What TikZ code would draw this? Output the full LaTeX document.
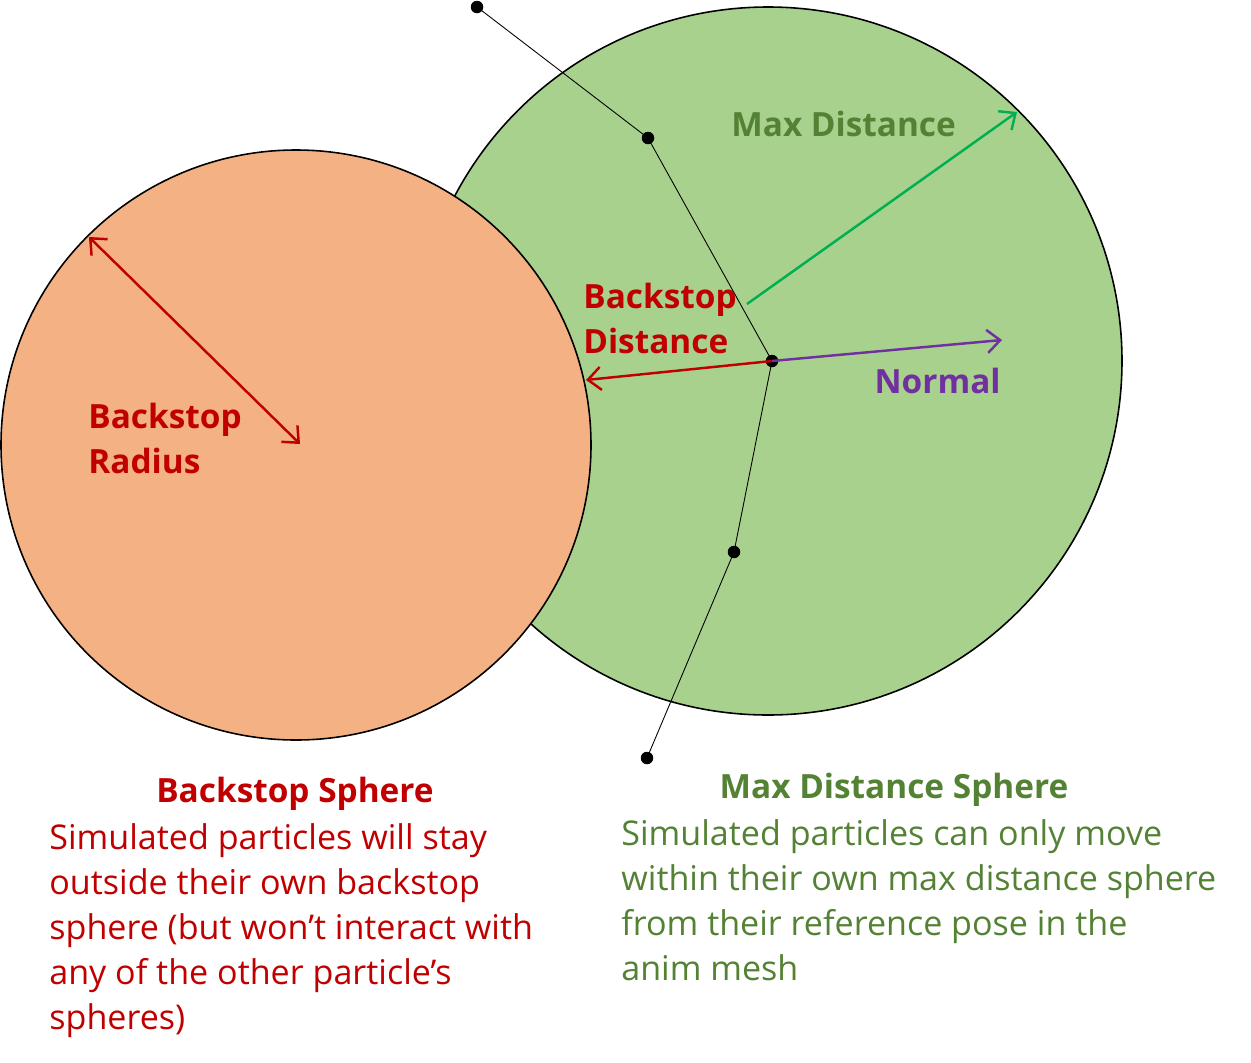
\documentclass[tikz,border=0pt]{standalone}
\usepackage{fontspec}
\setmainfont{Open Sans}
\usetikzlibrary{arrows.meta, positioning}
\definecolor{mdgreen}{HTML}{A9D18E}
\definecolor{bsorange}{HTML}{F4B183}
\definecolor{dkred}{HTML}{C00000}
\definecolor{nrmpurple}{HTML}{7030A0}
\definecolor{arrgreen}{HTML}{00B050}
\definecolor{txtgreen}{HTML}{548235}

\begin{document}
\begin{tikzpicture}[
  x=0.02cm, y=-0.02cm,
  >={Straight Barb[length=2.6mm, width=4.6mm]},
  vec/.style={line width=1.4pt, ->},
  lbl/.style={font=\fontsize{19}{25.6}\selectfont\bfseries, align=left, inner sep=0pt},
  desc/.style={font=\fontsize{19.4}{25.6}\selectfont, align=left, inner sep=0pt, anchor=north west},
  dot/.style={circle, fill=black, inner sep=0pt, minimum size=0.25cm},
]
\useasboundingbox (0,0) rectangle (1251,1062);

% Spheres
\draw[fill=mdgreen, line width=0.9pt] (768,361) circle (354);
\draw[fill=bsorange, line width=0.9pt] (296,445) circle (295);

% Anim mesh
\node[dot] (p0) at (477,7) {};
\node[dot] (p1) at (648,138) {};
\node[dot] (p2) at (772,361) {};
\node[dot] (p3) at (734,552) {};
\node[dot] (p4) at (647,758) {};
\draw[line width=0.5pt] (p0.center) -- (p1.center) -- (p2.center) -- (p3.center) -- (p4.center);

% Vectors
\coordinate (mdstart) at (747,304);
\coordinate (mdtip) at (1017,112);
\coordinate (nrmtip) at (1002,340);
\coordinate (bdtip) at (586,380);
\coordinate (brcenter) at (300,444);
\coordinate (brrim) at (89,237);
\draw[vec, arrgreen] (mdstart) -- (mdtip);
\draw[vec, nrmpurple] (p2.center) -- (nrmtip);
\draw[vec, dkred] (p2.center) -- (bdtip);
\draw[vec, dkred, <->] (brrim) -- (brcenter);

% Labels
\node[lbl, text=txtgreen, anchor=west] (mdlbl) at (731,124) {Max Distance};
\node[lbl, text=dkred, anchor=west] (bdlbl) at (583,318) {Backstop\\Distance};
\node[lbl, text=nrmpurple, anchor=east] (nrmlbl) at (1001,381) {Normal};
\node[lbl, text=dkred, anchor=west] (brlbl) at (88,438) {Backstop\\Radius};

% Captions
\node[lbl, text=dkred] (bstitle) at (295,794) {Backstop Sphere};
\node[desc, text=dkred] (bsdesc) at (49,823) {Simulated particles will stay\\outside their own backstop\\sphere (but won’t interact with\\any of the other particle’s\\spheres)};
\node[lbl, text=txtgreen] (mdtitle) at (894,790) {Max Distance Sphere};
\node[desc, text=txtgreen] (mddesc) at (621,819) {Simulated particles can only move\\within their own max distance sphere\\from their reference pose in the\\anim mesh};
\end{tikzpicture}
\end{document}
